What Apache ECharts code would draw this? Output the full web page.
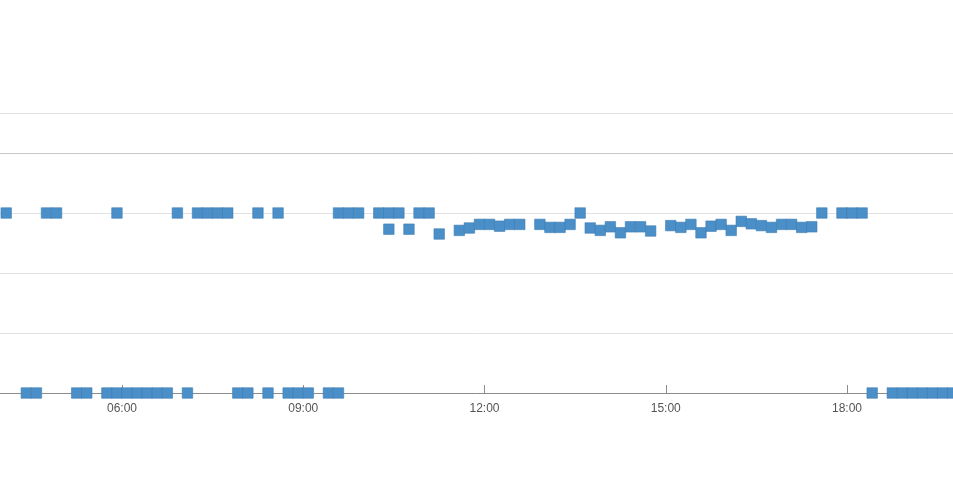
<!DOCTYPE html>
<html>
<head>
<meta charset="utf-8">
<script src="https://cdn.jsdelivr.net/npm/echarts@6/dist/echarts.min.js"></script>
<style>
html,body{margin:0;padding:0;background:#fff;}
#chart{width:953px;height:488px;}
</style>
</head>
<body>
<div id="chart"></div>
<script>
// Upper band readings (time of day, value)
const upperTimes = ["04:05","04:45","04:55","05:55","06:55","07:15","07:25","07:35","07:45","08:15","08:35",
  "09:35","09:45","09:55","10:15","10:25","10:25","10:35","10:45","10:55","11:05","11:15","11:35","11:45",
  "11:55","12:05","12:15","12:25","12:35","12:55","13:05","13:15","13:25","13:35","13:45","13:55","14:05",
  "14:15","14:25","14:35","14:45","15:05","15:15","15:25","15:35","15:45","15:55","16:05","16:15","16:25",
  "16:35","16:45","16:55","17:05","17:15","17:25","17:35","17:55","18:05","18:15"];
const upperValues = [3,3,3,3,3,3,3,3,3,3,3,
  3,3,3,3,3,2.73,3,2.73,3,3,2.65,2.71,2.75,
  2.81,2.81,2.78,2.81,2.81,2.81,2.76,2.76,2.81,3,2.75,2.71,2.77,
  2.67,2.77,2.77,2.70,2.79,2.76,2.81,2.67,2.78,2.81,2.71,2.86,2.82,
  2.79,2.76,2.81,2.81,2.76,2.77,3,3,3,3];
// Lower band readings
const lowerTimes = ["04:25","04:35","05:15","05:25","05:45","05:55","06:05","06:15","06:25","06:35","06:45",
  "07:05","07:55","08:05","08:25","08:45","08:55","09:05","09:25","09:35",
  "18:25","18:45","18:55","19:05","19:15","19:25","19:35","19:45"];
const lowerValues = [0,0,0,0,0,0,0,0,0,0,0,
  0,0,0,0,0,0,0,0,0,
  0,0,0,0,0,0,0,0];
const xTickLabels = ["03:00","06:00","09:00","12:00","15:00","18:00","21:00"];

function toMin(s){const p=s.split(':');return (+p[0])*60+(+p[1]);}
function fmt(m){const h=Math.floor(m/60),mm=Math.round(m%60);return String(h).padStart(2,'0')+':'+String(mm).padStart(2,'0');}

const data = [];
upperTimes.forEach((t,i)=>data.push([toMin(t),upperValues[i]]));
lowerTimes.forEach((t,i)=>data.push([toMin(t),lowerValues[i]]));

const tickMins = xTickLabels.map(toMin);
const chart = echarts.init(document.getElementById('chart'), null, {renderer:'canvas'});
chart.setOption({
  animation:false,
  backgroundColor:'#ffffff',
  grid:{left:-59.25, right:-75.25, top:113, bottom:95, containLabel:false, outerBoundsMode:'none'},
  xAxis:{
    type:'value',
    min:tickMins[0], max:tickMins[tickMins.length-1], interval:180,
    axisLine:{show:true, lineStyle:{color:'#8c8c8c', width:1}},
    axisTick:{show:true, inside:true, length:8, lineStyle:{color:'#8c8c8c'}},
    axisLabel:{color:'#555555', fontSize:12, fontFamily:'Liberation Sans, Arial, sans-serif', margin:10, formatter:v=>fmt(v)},
    splitLine:{show:false}
  },
  yAxis:{
    type:'value', min:0, max:280/60, interval:1,
    axisLine:{show:false}, axisTick:{show:false}, axisLabel:{show:false},
    splitLine:{show:true, lineStyle:{color:'#e2e2e2', width:1}}
  },
  series:[{
    type:'scatter',
    symbol:'rect',
    symbolSize:10.5,
    data:data,
    itemStyle:{color:'#4a8fc8', borderColor:'#3f7db3', borderWidth:0.6, opacity:1},
    markLine:{
      silent:true, symbol:'none', label:{show:false},
      lineStyle:{color:'#c8c8c8', type:'solid', width:1},
      data:[{yAxis:4}]
    },
    z:3
  }]
});
</script>
</body>
</html>
